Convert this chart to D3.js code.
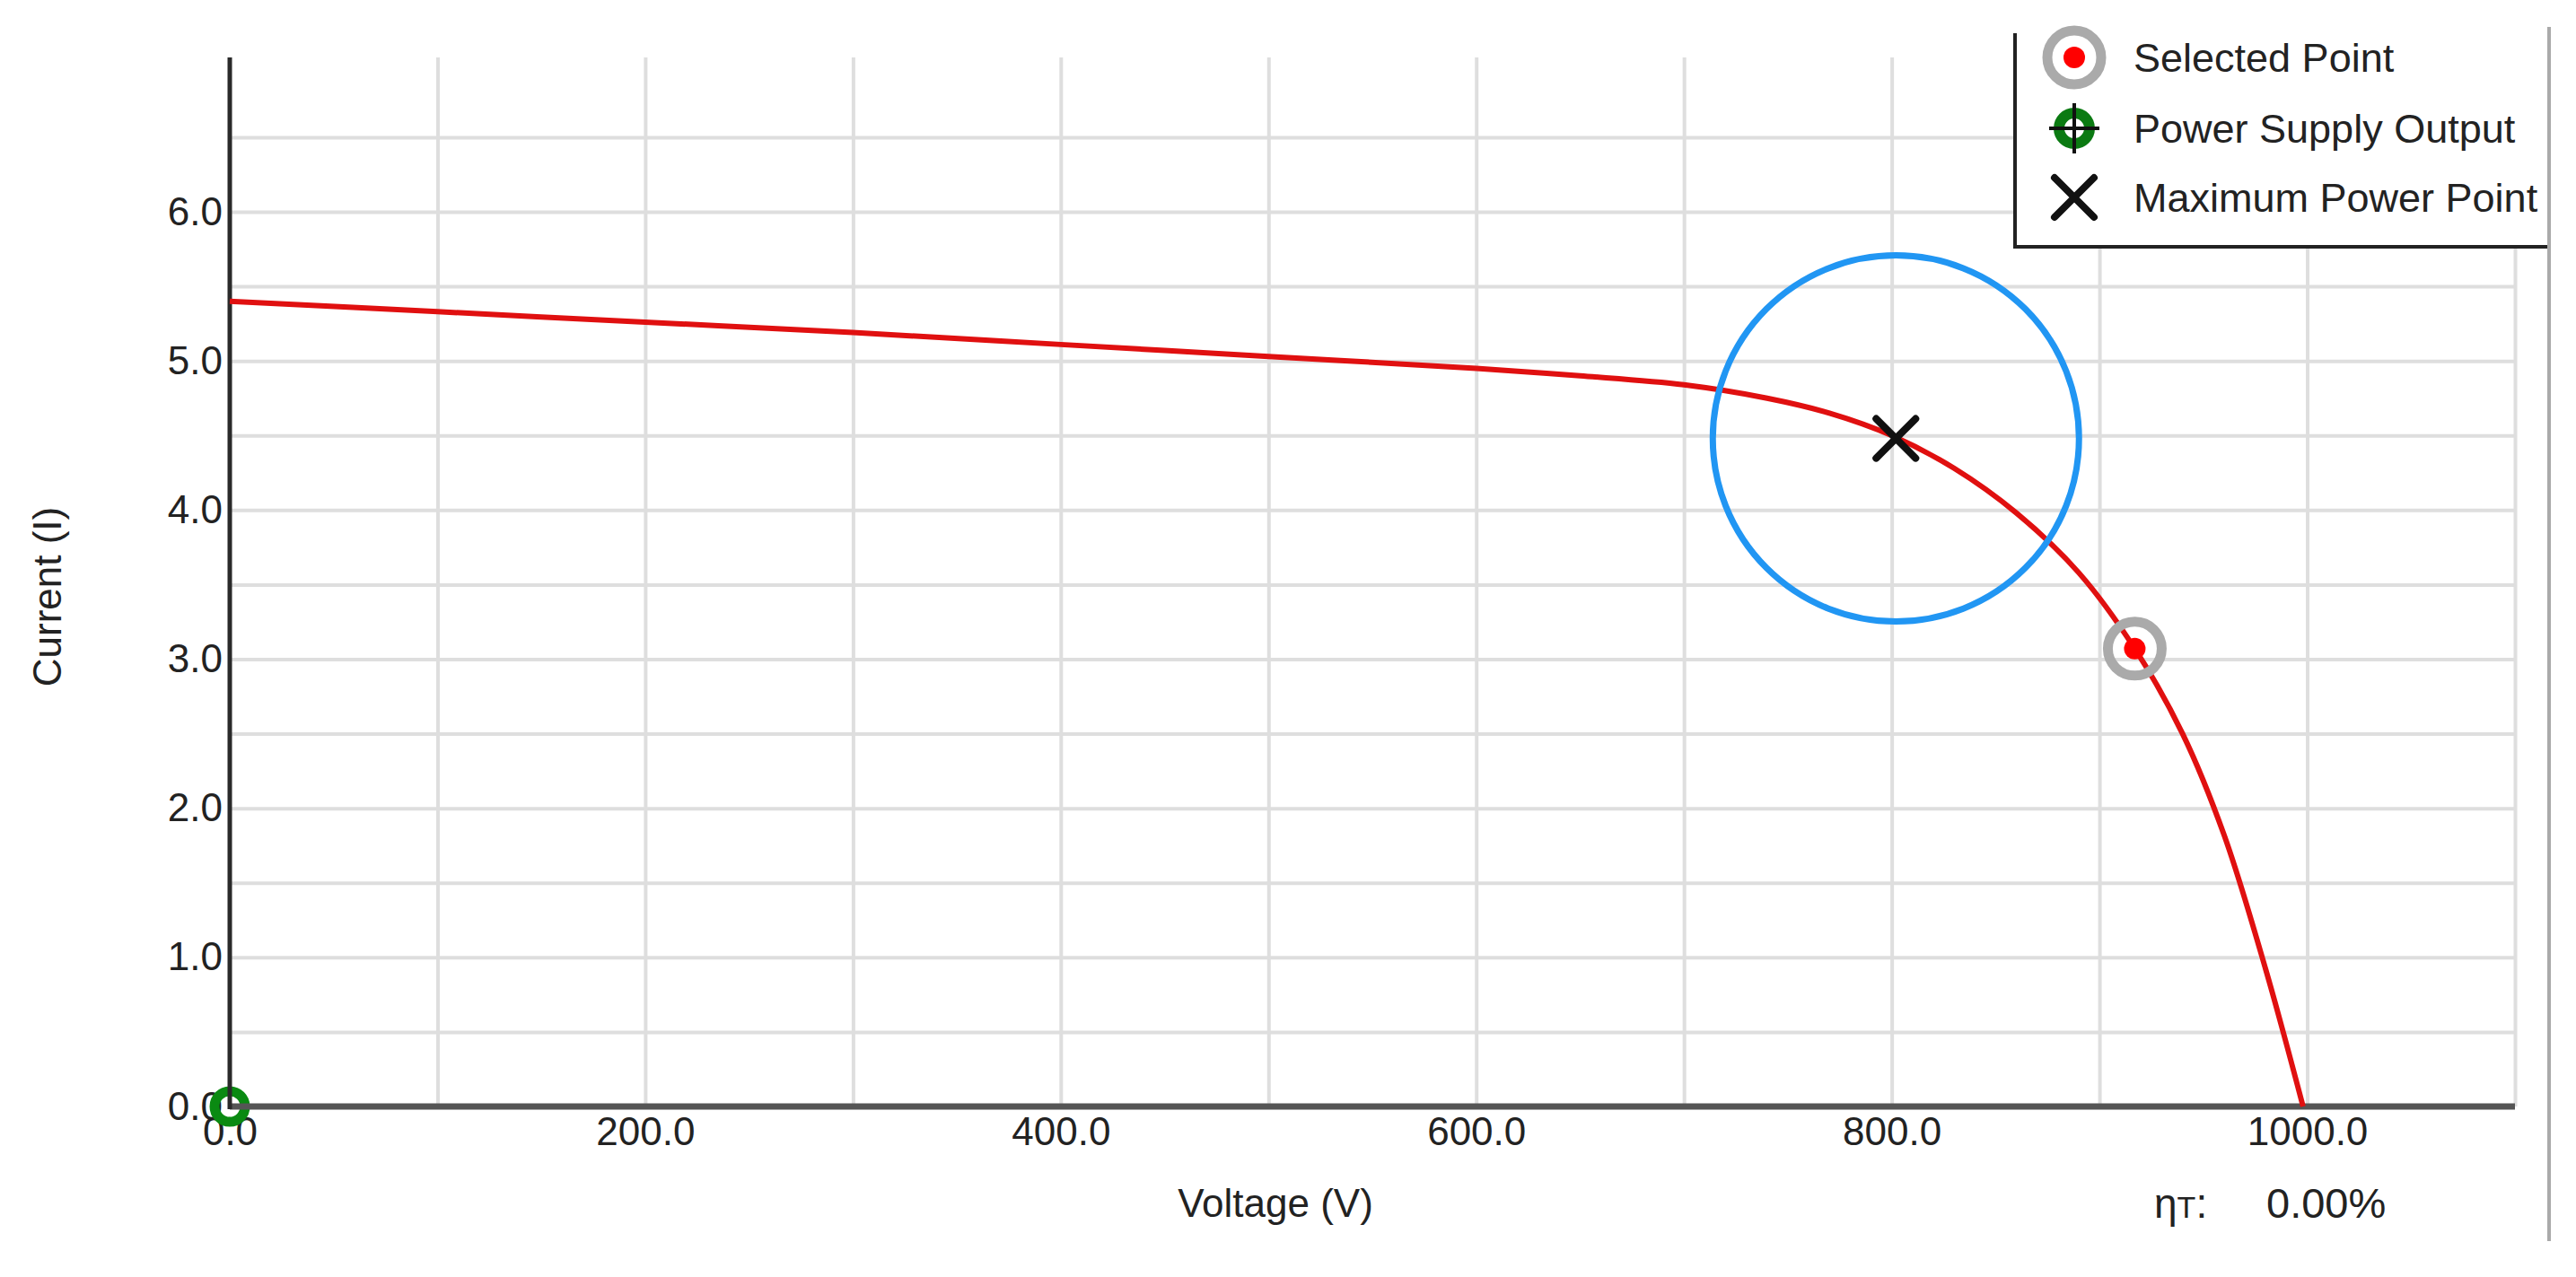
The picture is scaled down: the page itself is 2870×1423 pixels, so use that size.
<!DOCTYPE html>
<html lang="en">
  <head>
    <meta charset="UTF-8">
    <title>I-V Curve</title>
    <script src="https://cdn.jsdelivr.net/npm/d3@7"></script>
    <style>
      body { margin: 0; background: #fff; }
      text { font-family: "Liberation Sans", Arial, sans-serif; fill: #222; }
      .grid line { stroke: #dedede; stroke-width: 4; }
      .grid .domain { display: none; }
      .lbl .domain, .lbl line { display: none; }
    </style>
  </head>
  <body>
    <svg id="chart"></svg>

    <script>
      // I-V curve
      var voltage = [0, 100, 200, 300, 400, 500, 600, 650, 700, 740, 770, 800, 830, 860, 890, 917, 940, 960, 980, 998];
      var current = [5.40, 5.33, 5.26, 5.19, 5.11, 5.03, 4.95, 4.90, 4.84, 4.75, 4.65, 4.50, 4.28, 3.98, 3.58, 3.07, 2.50, 1.82, 0.92, 0.00];

      var maxPowerPoint = [802, 4.48];
      var selectedPoint = [917, 3.07];
      var supplyOutput = [0, 0];

      var xTicks = [0, 200, 400, 600, 800, 1000];
      var yTicks = [0, 1, 2, 3, 4, 5, 6];
      var legendLabels = ["Selected Point", "Power Supply Output", "Maximum Power Point"];

      var W = 2870, H = 1423;
      var svg = d3.select("#chart").attr("width", W).attr("height", H);

      var x = d3.scaleLinear().domain([0, 1100]).range([256, 2802]);
      var y = d3.scaleLinear().domain([0, 7.035]).range([1233, 64]);

      // grid
      svg.append("g")
          .attr("class", "grid")
          .attr("transform", "translate(0,1233)")
          .call(d3.axisBottom(x).tickValues(d3.range(100, 1101, 100)).tickSize(-(1233 - 64)).tickFormat(""));

      svg.append("g")
          .attr("class", "grid")
          .attr("transform", "translate(256,0)")
          .call(d3.axisLeft(y).tickValues(d3.range(0.5, 6.6, 0.5)).tickSize(-(2802 - 256)).tickFormat(""));

      // tick labels
      svg.append("g")
          .attr("class", "lbl")
          .attr("transform", "translate(0,1233)")
          .call(d3.axisBottom(x).tickValues(xTicks).tickSize(0).tickPadding(12).tickFormat(d3.format(".1f")))
          .selectAll("text").style("font-size", "44px").attr("fill", "#222");

      svg.append("g")
          .attr("class", "lbl")
          .attr("transform", "translate(248,0)")
          .call(d3.axisLeft(y).tickValues(yTicks).tickSize(0).tickPadding(0).tickFormat(d3.format(".1f")))
          .selectAll("text").style("font-size", "44px").attr("fill", "#222");

      // power supply output marker (under the axes)
      svg.append("circle")
          .attr("cx", x(supplyOutput[0]))
          .attr("cy", y(supplyOutput[1]))
          .attr("r", 17)
          .attr("fill", "none")
          .attr("stroke", "#0a8a12")
          .attr("stroke-width", 11);

      // axes lines
      svg.append("line")
          .attr("x1", x(0)).attr("x2", x(1100))
          .attr("y1", y(0)).attr("y2", y(0))
          .attr("stroke", "#555").attr("stroke-width", 7);

      svg.append("line")
          .attr("x1", x(0)).attr("x2", x(0))
          .attr("y1", y(7.035)).attr("y2", y(0) + 3)
          .attr("stroke", "#2a2a2a").attr("stroke-width", 5);

      // curve
      var line = d3.line()
          .x(function(d, i) { return x(voltage[i]); })
          .y(function(d) { return y(d); })
          .curve(d3.curveCatmullRom.alpha(0.5));

      svg.append("path")
          .datum(current)
          .attr("d", line)
          .attr("fill", "none")
          .attr("stroke", "#e01010")
          .attr("stroke-width", 6);

      function drawSelected(g, cx, cy) {
        g.append("circle").attr("cx", cx).attr("cy", cy).attr("r", 30)
            .attr("fill", "none").attr("stroke", "#aaa").attr("stroke-width", 11);
        g.append("circle").attr("cx", cx).attr("cy", cy).attr("r", 12).attr("fill", "#f00");
      }

      function drawCross(g, cx, cy) {
        var s = 22;
        g.append("path")
            .attr("d", "M" + (cx - s) + "," + (cy - s) + "L" + (cx + s) + "," + (cy + s) +
                       "M" + (cx - s) + "," + (cy + s) + "L" + (cx + s) + "," + (cy - s))
            .attr("stroke", "#111").attr("stroke-width", 8).attr("stroke-linecap", "round");
      }

      function drawSupply(g, cx, cy) {
        g.append("circle").attr("cx", cx).attr("cy", cy).attr("r", 17)
            .attr("fill", "none").attr("stroke", "#0b7a12").attr("stroke-width", 12);
        g.append("path")
            .attr("d", "M" + (cx - 28) + "," + cy + "L" + (cx + 28) + "," + cy +
                       "M" + cx + "," + (cy - 28) + "L" + cx + "," + (cy + 28))
            .attr("stroke", "#111").attr("stroke-width", 4);
      }

      var marks = svg.append("g");
      drawSelected(marks, x(selectedPoint[0]), y(selectedPoint[1]));
      drawCross(marks, x(maxPowerPoint[0]), y(maxPowerPoint[1]));

      // highlight circle around the MPP
      svg.append("circle")
          .attr("cx", x(maxPowerPoint[0]))
          .attr("cy", y(maxPowerPoint[1]))
          .attr("r", 204)
          .attr("fill", "none")
          .attr("stroke", "#2196f3")
          .attr("stroke-width", 7);

      // legend
      var legend = svg.append("g");
      legend.append("rect")
          .attr("x", 2245).attr("y", 30).attr("width", 600).attr("height", 245)
          .attr("fill", "#fff");
      legend.append("path")
          .attr("d", "M2245,37V275H2842")
          .attr("fill", "none").attr("stroke", "#222").attr("stroke-width", 4);

      var legendY = [64, 143, 220];
      drawSelected(legend, 2311, legendY[0]);
      drawSupply(legend, 2311, legendY[1]);
      drawCross(legend, 2311, legendY[2]);

      legend.selectAll("text.item")
          .data(legendLabels)
        .enter().append("text")
          .attr("class", "item")
          .attr("x", 2377)
          .attr("y", function(d, i) { return legendY[i] + 16; })
          .style("font-size", "45px")
          .text(function(d) { return d; });

      // window border on the right
      svg.append("line")
          .attr("x1", 2840).attr("x2", 2840)
          .attr("y1", 30).attr("y2", 1383)
          .attr("stroke", "#aaa").attr("stroke-width", 4);

      // axis titles
      svg.append("text")
          .attr("x", 1421).attr("y", 1356)
          .attr("text-anchor", "middle")
          .style("font-size", "44px")
          .text("Voltage (V)");

      svg.append("text")
          .attr("transform", "translate(68,665) rotate(-90)")
          .attr("text-anchor", "middle")
          .style("font-size", "44px")
          .text("Current (I)");

      var eff = svg.append("text")
          .attr("x", 2400).attr("y", 1357)
          .style("font-size", "46px");
      eff.append("tspan").text("η");
      eff.append("tspan").style("font-size", "34px").text("T");
      eff.append("tspan").text(":");
      svg.append("text")
          .attr("x", 2525).attr("y", 1357)
          .style("font-size", "47px")
          .text("0.00%");
    </script>
  </body>
</html>
